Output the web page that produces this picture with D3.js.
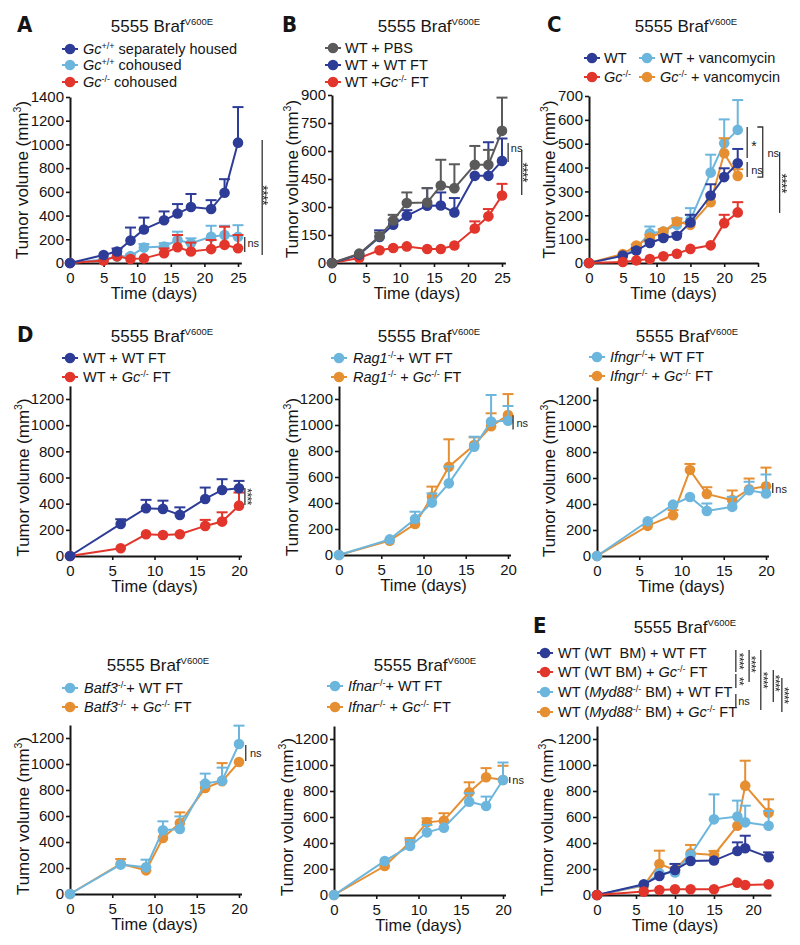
<!DOCTYPE html>
<html>
<head>
<meta charset="utf-8">
<script src="https://cdnjs.cloudflare.com/ajax/libs/d3/7.8.5/d3.min.js"></script>
<style>
  body { margin: 0; background: #fff; }
  svg { display: block; font-family: "Liberation Sans", Arial, sans-serif; }
  text { white-space: pre; }
  .stars { filter: grayscale(1); }
</style>
</head>
<body>
<svg id="fig" width="800" height="945"></svg>
<script>
// ---- data ----
let xTicks25 = [0, 5, 10, 15, 20, 25]
let xTicks20 = [0, 5, 10, 15, 20]
let yTicksA = [0, 200, 400, 600, 800, 1000, 1200, 1400]
let yTicksB = [0, 150, 300, 450, 600, 750, 900]
let yTicksC = [0, 100, 200, 300, 400, 500, 600, 700]
let yTicks1200 = [0, 200, 400, 600, 800, 1000, 1200]

// A
let daysA = [0, 5, 7, 9, 11, 14, 16, 18, 21, 23, 25]
let aSep = [0, 68, 97, 189, 283, 360, 417, 472, 455, 592, 1015]
let aSepErr = [0, 0, 25, 110, 100, 75, 80, 110, 75, 115, 300]
let aCo = [0, 30, 55, 58, 130, 139, 194, 167, 222, 236, 222]
let aCoErr = [0, 0, 0, 15, 30, 28, 70, 41, 92, 78, 97]
let aKo = [0, 22, 56, 33, 39, 83, 133, 97, 117, 153, 125]
let aKoErr = [0, 0, 0, 0, 0, 40, 103, 75, 77, 153, 111]
let legendA = ['<i>Gc</i>^{+/+} separately housed', '<i>Gc</i>^{+/+} cohoused', '<i>Gc</i>^{-/-} cohoused']

// B
let daysB = [0, 4, 7, 9, 11, 14, 16, 18, 21, 23, 25]
let bPbs = [0, 50, 143, 228, 321, 324, 415, 401, 526, 526, 708]
let bPbsErr = [0, 0, 20, 30, 57, 77, 138, 128, 101, 80, 178]
let bWt = [0, 45, 139, 205, 253, 307, 308, 271, 467, 467, 547]
let bWtErr = [0, 0, 36, 27, 30, 94, 70, 77, 0, 180, 120]
let bKo = [0, 27, 68, 80, 89, 75, 75, 94, 185, 250, 362]
let bKoErr = [0, 0, 0, 0, 0, 0, 0, 0, 38, 39, 62]
let legendB = ['WT + PBS', 'WT + WT FT', 'WT +<i>Gc</i>^{-/-} FT']

// C
let daysC = [0, 5, 7, 9, 11, 13, 15, 18, 20, 22]
let cWt = [0, 31, 52, 84, 105, 114, 170, 283, 360, 418]
let cWtErr = [0, 0, 10, 10, 10, 10, 32, 47, 37, 60]
let cKo = [0, 4, 11, 17, 28, 39, 59, 74, 167, 212]
let cKoErr = [0, 0, 0, 0, 0, 0, 0, 0, 35, 43]
let cWtV = [0, 30, 63, 125, 132, 160, 180, 379, 502, 558]
let cWtVErr = [0, 0, 10, 28, 10, 28, 50, 75, 100, 125]
let cKoV = [0, 38, 73, 107, 132, 174, 160, 255, 460, 365]
let cKoVErr = [0, 0, 5, 10, 10, 10, 10, 32, 63, 28]
let legendC = ['WT', 'WT + vancomycin', '<i>Gc</i>^{-/-}', '<i>Gc</i>^{-/-} + vancomycin']

// D (four host strains) share days
let daysD = [0, 6, 9, 11, 13, 16, 18, 20]
let dWt = [0, 245, 365, 360, 314, 436, 505, 518]
let dWtErr = [0, 36, 64, 63, 58, 87, 82, 56]
let dKo = [0, 59, 166, 161, 166, 230, 263, 385]
let dKoErr = [0, 0, 0, 0, 0, 46, 71, 100]
let legendD = ['WT + WT FT', 'WT + <i>Gc</i>^{-/-} FT']

let rWt = [0, 120, 277, 403, 551, 833, 1026, 1033]
let rWtErr = [0, 0, 56, 71, 129, 77, 205, 113]
let rKo = [0, 110, 238, 449, 679, 846, 990, 1077]
let rKoErr = [0, 0, 0, 77, 211, 59, 100, 161]
let legendRag = ['<i>Rag1</i>^{-/-}+ WT FT', '<i>Rag1</i>^{-/-} + <i>Gc</i>^{-/-} FT']

let gWt = [0, 267, 395, 454, 347, 378, 506, 481]
let gWtErr = [0, 0, 0, 0, 57, 77, 65, 146]
let gKo = [0, 232, 314, 661, 477, 430, 514, 537]
let gKoErr = [0, 0, 39, 47, 52, 74, 82, 143]
let legendIfngr = ['<i>Ifngr</i>^{-/-}+ WT FT', '<i>Ifngr</i>^{-/-} + <i>Gc</i>^{-/-} FT']

let tWt = [0, 226, 205, 490, 500, 849, 872, 1154]
let tWtErr = [0, 0, 59, 69, 97, 77, 100, 141]
let tKo = [0, 233, 182, 431, 546, 815, 867, 1015]
let tKoErr = [0, 36, 0, 0, 82, 44, 140, 0]
let legendBatf = ['<i>Batf3</i>^{-/-}+ WT FT', '<i>Batf3</i>^{-/-} + <i>Gc</i>^{-/-} FT']

let fWt = [0, 262, 377, 482, 518, 718, 685, 885]
let fWtErr = [0, 0, 46, 57, 0, 65, 72, 134]
let fKo = [0, 223, 405, 559, 572, 790, 906, 885]
let fKoErr = [0, 0, 32, 31, 57, 77, 70, 109]
let legendIfnar = ['<i>Ifnar</i>^{-/-}+ WT FT', '<i>Ifnar</i>^{-/-} + <i>Gc</i>^{-/-} FT']

// E
let daysE = [0, 6, 8, 10, 12, 15, 18, 19, 22]
let eWt = [0, 82, 146, 193, 262, 265, 339, 360, 290]
let eWtErr = [0, 0, 0, 46, 0, 0, 66, 96, 38]
let eKo = [0, 26, 38, 44, 44, 44, 95, 77, 82]
let eKoErr = [0, 0, 0, 0, 0, 0, 0, 0, 0]
let eMyWt = [0, 77, 167, 174, 308, 582, 603, 559, 533]
let eMyWtErr = [0, 0, 0, 0, 0, 192, 123, 128, 113]
let eMyKo = [0, 72, 238, 193, 321, 308, 533, 841, 633]
let eMyKoErr = [0, 0, 103, 0, 64, 31, 0, 192, 103]
let legendE = ['WT (WT  BM) + WT FT', 'WT (WT BM) + <i>Gc</i>^{-/-} FT',
  'WT (<i>Myd88</i>^{-/-} BM) + WT FT', 'WT (<i>Myd88</i>^{-/-} BM) + <i>Gc</i>^{-/-} FT']

// ---- colours ----
let DARK = '#2d3c97', RED = '#e2352b', LIGHT = '#6cb6de', ORANGE = '#e68f32', GRAY = '#5a5a5a'
let INK = '#151515'

let svg = d3.select('#fig')

// text with <i>..</i> and ^{..} superscripts
function rich(text, str, supSize, supShift) {
  let parts = str.split(/(<i>.*?<\/i>|\^\{.*?\})/).filter(s => s)
  let up = false
  parts.forEach(s => {
    let ts = text.append('tspan')
    if (s.startsWith('^{')) {
      ts.text(s.slice(2, -1)).attr('font-size', supSize).attr('dy', -supShift)
      up = true
    } else {
      if (up) { ts.attr('dy', supShift); up = false }
      if (s.startsWith('<i>')) ts.text(s.slice(3, -4)).attr('font-style', 'italic')
      else ts.text(s)
    }
  })
}

function styleAxis(sel) {
  sel.attr('font-family', null).attr('font-size', 15)
  sel.select('.domain').attr('stroke', INK).attr('stroke-width', 2)
  sel.selectAll('.tick line').attr('stroke', INK).attr('stroke-width', 1.6)
  sel.selectAll('.tick text').attr('fill', INK)
}

function panel(p) {
  let g = svg.append('g')
  let xs = d3.scaleLinear().domain([0, p.xTick]).range([p.x0, p.xLast])
  let x = d3.scaleLinear().domain([0, p.xMax]).range([p.x0, xs(p.xMax)])
  let ys = d3.scaleLinear().domain([0, p.yTick]).range([p.y0, p.yLast])
  let y = d3.scaleLinear().domain([0, p.yMax]).range([p.y0, ys(p.yMax)])

  // axes
  g.append('g').attr('transform', 'translate(0,' + p.y0 + ')')
    .call(d3.axisBottom(x).tickValues(p.xTicks).tickFormat(d3.format('d'))
      .tickSize(4).tickPadding(5).tickSizeOuter(0))
    .call(styleAxis)
  g.append('g').attr('transform', 'translate(' + p.x0 + ',0)')
    .call(d3.axisLeft(y).tickValues(p.yTicks).tickFormat(d3.format('d'))
      .tickSize(4).tickPadding(2).tickSizeOuter(0))
    .call(styleAxis)

  // axis titles
  g.append('text')
    .attr('x', (p.x0 + p.xLast) / 2).attr('y', p.y0 + 36)
    .attr('text-anchor', 'middle').attr('font-size', 16.5).attr('fill', INK)
    .text('Time (days)')
  let yl = g.append('text')
    .attr('transform', 'translate(' + p.ylab + ',' + (p.y0 + p.yLast) / 2 + ') rotate(-90)')
    .attr('dy', '0.35em')
    .attr('text-anchor', 'middle').attr('font-size', 17).attr('fill', INK)
  rich(yl, 'Tumor volume (mm^{3})', 10.5, 6.5)
  yl.append('tspan').attr('dy', 6.5).text('')

  // panel letter and title
  if (p.letter) {
    g.append('text').attr('x', p.letter[1]).attr('y', p.letter[2])
      .attr('font-family', '"Liberation Sans Narrow", "DejaVu Sans Condensed", sans-serif')
      .attr('font-weight', 'bold').attr('font-size', 22).attr('fill', INK)
      .text(p.letter[0])
  }
  let tt = g.append('text').attr('x', p.title[0]).attr('y', p.title[1])
    .attr('text-anchor', 'middle').attr('font-size', 17).attr('fill', INK)
  rich(tt, '5555 Braf^{V600E}', 9.5, 7)

  // series
  let line = d3.line().x((d, i) => x(p.days[i])).y(d => y(d))
  p.series.forEach(s => {
    let sg = g.append('g')
    let rows = s.v.map((v, i) => ({ d: p.days[i], v: v, e: s.e[i] })).filter(r => r.e > 0)
    sg.selectAll('.eb').data(rows).join('line')
      .attr('x1', r => x(r.d)).attr('x2', r => x(r.d))
      .attr('y1', r => y(r.v)).attr('y2', r => y(r.v + r.e))
      .attr('stroke', s.c).attr('stroke-width', 2)
    sg.selectAll('.cap').data(rows).join('line')
      .attr('x1', r => x(r.d) - 5.5).attr('x2', r => x(r.d) + 5.5)
      .attr('y1', r => y(r.v + r.e)).attr('y2', r => y(r.v + r.e))
      .attr('stroke', s.c).attr('stroke-width', 2)
    sg.append('path').datum(s.v).attr('d', line)
      .attr('fill', 'none').attr('stroke', s.c).attr('stroke-width', 2)
    sg.selectAll('circle').data(s.v).join('circle')
      .attr('cx', (d, i) => x(p.days[i])).attr('cy', d => y(d))
      .attr('r', 5.3).attr('fill', s.c)
  })

  // legend
  p.legend.forEach((it, i) => {
    let lg = g.append('g').attr('transform', 'translate(' + it[0] + ',' + it[1] + ')')
    lg.append('line').attr('x1', -8).attr('x2', 8)
      .attr('stroke', p.legendColors[i]).attr('stroke-width', 2)
    lg.append('circle').attr('r', 5.3).attr('fill', p.legendColors[i])
    let lt = lg.append('text').attr('x', it[2]).attr('y', 5.2)
      .attr('font-size', 14.5).attr('fill', INK)
    rich(lt, p.legendLabels[i], 9, 5.5)
  })

  // significance marks
  p.notes.forEach(n => {
    if (n[0] === 'l') {
      g.append('line').attr('x1', x(n[1])).attr('x2', x(n[1]))
        .attr('y1', y(n[2])).attr('y2', y(n[3]))
        .attr('stroke', '#333').attr('stroke-width', 1.3)
    } else if (n[0] === 'p') {
      g.append('path').attr('d', d3.line().x(q => x(q[0])).y(q => y(q[1]))(n[1]))
        .attr('fill', 'none').attr('stroke', '#333').attr('stroke-width', 1.3)
    } else if (n[4]) {
      // stars written sideways, as in the figure
      g.append('text').attr('class', 'stars')
        .attr('transform', 'translate(' + x(n[1]) + ',' + y(n[2]) + ') rotate(90)')
        .attr('text-anchor', 'middle').attr('dy', '0.55em')
        .attr('letter-spacing', -0.6)
        .attr('font-size', n[5]).attr('fill', '#222').text(n[3])
    } else {
      g.append('text').attr('x', x(n[1])).attr('y', y(n[2]))
        .attr('font-size', n[5]).attr('fill', '#222').text(n[3])
    }
  })
}

let panels = [
  {
    letter: ['A', 17, 32], title: [162, 32], ylab: 22,
    x0: 70, xLast: 238, xTick: 25, xMax: 25.5, xTicks: xTicks25,
    y0: 263, yLast: 97, yTick: 1400, yMax: 1400, yTicks: yTicksA,
    days: daysA,
    series: [{ v: aCo, e: aCoErr, c: LIGHT }, { v: aKo, e: aKoErr, c: RED }, { v: aSep, e: aSepErr, c: DARK }],
    legendLabels: legendA, legendColors: [DARK, LIGHT, RED],
    legend: [[70, 49, 13], [70, 65, 13], [70, 82, 13]],
    notes: [['l', 28.6, 1037, 67], ['t', 29.1, 573, '****', true, 14],
      ['l', 26.0, 219, 93], ['t', 26.4, 135, 'ns', false, 11]]
  },
  {
    letter: ['B', 282, 32], title: [429, 32], ylab: 292,
    x0: 332, xLast: 502, xTick: 25, xMax: 25.5, xTicks: xTicks25,
    y0: 263, yLast: 95, yTick: 900, yMax: 900, yTicks: yTicksB,
    days: daysB,
    series: [{ v: bKo, e: bKoErr, c: RED }, { v: bWt, e: bWtErr, c: DARK }, { v: bPbs, e: bPbsErr, c: GRAY }],
    legendLabels: legendB, legendColors: [GRAY, DARK, RED],
    legend: [[333, 48, 12], [333, 65, 12], [333, 82, 12]],
    notes: [['l', 25.9, 643, 541], ['t', 26.3, 595, 'ns', false, 11],
      ['l', 27.9, 605, 364], ['t', 28.5, 487, '****', true, 14]]
  },
  {
    letter: ['C', 547, 32], title: [686, 32], ylab: 549,
    x0: 589, xLast: 758, xTick: 25, xMax: 25, xTicks: xTicks25,
    y0: 263, yLast: 96, yTick: 700, yMax: 700, yTicks: yTicksC,
    days: daysC,
    series: [{ v: cWtV, e: cWtVErr, c: LIGHT }, { v: cKoV, e: cKoVErr, c: ORANGE },
      { v: cWt, e: cWtErr, c: DARK }, { v: cKo, e: cKoErr, c: RED }],
    legendLabels: legendC, legendColors: [DARK, LIGHT, RED, ORANGE],
    legend: [[592, 58, 12], [647, 58, 13], [592, 77, 12], [647, 77, 13]],
    notes: [['l', 23.4, 570, 440], ['t', 24.0, 469, '*', false, 14],
      ['p', [[24.9, 570], [25.7, 570], [25.7, 360], [24.9, 360]]], ['t', 26.4, 444, 'ns', false, 11],
      ['l', 23.4, 423, 360], ['t', 24.0, 373, 'ns', false, 11],
      ['l', 28.2, 465, 210], ['t', 28.9, 335, '****', true, 14]]
  },
  {
    letter: ['D', 17, 342], title: [162, 342], ylab: 23,
    x0: 70, xLast: 239, xTick: 20, xMax: 20.3, xTicks: xTicks20,
    y0: 556, yLast: 399, yTick: 1200, yMax: 1300, yTicks: yTicks1200,
    days: daysD,
    series: [{ v: dKo, e: dKoErr, c: RED }, { v: dWt, e: dWtErr, c: DARK }],
    legendLabels: legendD, legendColors: [DARK, RED],
    legend: [[70, 358, 13], [70, 377, 13]],
    notes: [['l', 20.7, 520, 390], ['t', 21.3, 455, '****', true, 12]]
  },
  {
    title: [429, 342], ylab: 292,
    x0: 339, xLast: 508, xTick: 20, xMax: 20.3, xTicks: xTicks20,
    y0: 555, yLast: 399, yTick: 1200, yMax: 1300, yTicks: yTicks1200,
    days: daysD,
    series: [{ v: rKo, e: rKoErr, c: ORANGE }, { v: rWt, e: rWtErr, c: LIGHT }],
    legendLabels: legendRag, legendColors: [LIGHT, ORANGE],
    legend: [[339, 358, 14], [339, 377, 14]],
    notes: [['l', 20.6, 1075, 965], ['t', 21.0, 985, 'ns', false, 11]]
  },
  {
    title: [687, 342], ylab: 549,
    x0: 597, xLast: 766, xTick: 20, xMax: 20.3, xTicks: xTicks20,
    y0: 556, yLast: 400, yTick: 1200, yMax: 1300, yTicks: yTicks1200,
    days: daysD,
    series: [{ v: gKo, e: gKoErr, c: ORANGE }, { v: gWt, e: gWtErr, c: LIGHT }],
    legendLabels: legendIfngr, legendColors: [LIGHT, ORANGE],
    legend: [[597, 357, 13], [597, 376, 13]],
    notes: [['l', 20.8, 561, 485], ['t', 21.1, 483, 'ns', false, 11]]
  },
  {
    title: [158, 671], ylab: 23,
    x0: 70, xLast: 239, xTick: 20, xMax: 20.3, xTicks: xTicks20,
    y0: 894, yLast: 738, yTick: 1200, yMax: 1300, yTicks: yTicks1200,
    days: daysD,
    series: [{ v: tKo, e: tKoErr, c: ORANGE }, { v: tWt, e: tWtErr, c: LIGHT }],
    legendLabels: legendBatf, legendColors: [LIGHT, ORANGE],
    legend: [[70, 688, 14], [70, 707, 14]],
    notes: [['l', 20.8, 1146, 1023], ['t', 21.3, 1054, 'ns', false, 11]]
  },
  {
    title: [425, 671], ylab: 287,
    x0: 334, xLast: 503, xTick: 20, xMax: 20.3, xTicks: xTicks20,
    y0: 895, yLast: 739, yTick: 1200, yMax: 1300, yTicks: yTicks1200,
    days: daysD,
    series: [{ v: fKo, e: fKoErr, c: ORANGE }, { v: fWt, e: fWtErr, c: LIGHT }],
    legendLabels: legendIfnar, legendColors: [LIGHT, ORANGE],
    legend: [[335, 686, 13], [335, 707, 13]],
    notes: [['l', 20.8, 907, 862], ['t', 21.1, 854, 'ns', false, 11]]
  },
  {
    letter: ['E', 533, 633], title: [685, 633], ylab: 547,
    x0: 597, xLast: 753, xTick: 20, xMax: 22.3, xTicks: xTicks20,
    y0: 895, yLast: 739, yTick: 1200, yMax: 1300, yTicks: yTicks1200,
    days: daysE,
    series: [{ v: eMyKo, e: eMyKoErr, c: ORANGE }, { v: eMyWt, e: eMyWtErr, c: LIGHT },
      { v: eWt, e: eWtErr, c: DARK }, { v: eKo, e: eKoErr, c: RED }],
    legendLabels: legendE, legendColors: [DARK, RED, LIGHT, ORANGE],
    legend: [[545, 653, 13], [545, 672, 13], [545, 692, 13], [545, 712, 13]],
    notes: [['l', 17.8, 1885, 1715], ['t', 18.5, 1800, '****', true, 12],
      ['l', 17.8, 1700, 1592], ['t', 18.5, 1646, '**', true, 12],
      ['l', 17.8, 1546, 1438], ['t', 18.1, 1462, 'ns', false, 11],
      ['l', 19.5, 1885, 1638], ['t', 20.1, 1777, '****', true, 12],
      ['l', 21.0, 1885, 1423], ['t', 21.6, 1654, '****', true, 12],
      ['l', 22.6, 1731, 1485], ['t', 23.2, 1631, '****', true, 12],
      ['l', 23.7, 1669, 1408], ['t', 24.3, 1538, '****', true, 12]]
  }
]

panels.forEach(panel)
</script>
</body>
</html>
